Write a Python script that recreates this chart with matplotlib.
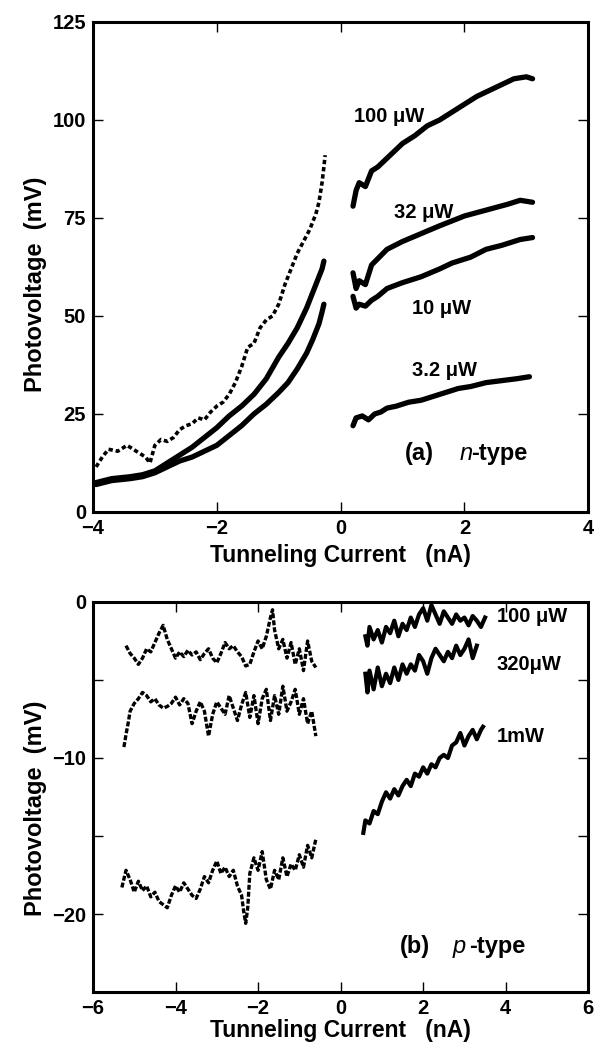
import matplotlib
matplotlib.use("Agg")
import matplotlib.pyplot as plt
from matplotlib.ticker import MultipleLocator

plt.rcParams['font.family'] = ['Liberation Sans', 'DejaVu Sans']

# ---------------- (a) n-type ----------------
n100_neg_x = [-3.95, -3.85, -3.75, -3.6, -3.45, -3.35, -3.25, -3.15, -3.08, -3.0, -2.9, -2.8, -2.7,
              -2.6, -2.5, -2.4, -2.3, -2.2, -2.1, -2.0, -1.9, -1.8, -1.7, -1.6, -1.5, -1.4, -1.3,
              -1.2, -1.1, -1.0, -0.9, -0.8, -0.7, -0.6, -0.5, -0.45, -0.4, -0.35, -0.3, -0.27, -0.25]
n100_neg_y = [11.5, 14, 16, 15.5, 17, 16, 15, 14, 12.5, 17, 18.5, 18, 19,
              21, 22, 22.5, 24, 23.5, 25.5, 27, 28, 30, 33, 37, 42, 43, 47,
              49, 50, 53, 58, 62, 66, 69, 72, 74, 76, 79, 84, 88, 91]
n32_neg_x = [-3.95, -3.7, -3.4, -3.2, -3.0, -2.8, -2.6, -2.4, -2.2, -2.0, -1.8, -1.6, -1.4, -1.2,
             -1.0, -0.85, -0.7, -0.55, -0.45, -0.35, -0.3, -0.27]
n32_neg_y = [7.5, 8.5, 9, 9.5, 10.5, 12.5, 14.5, 16.5, 19, 21.5, 24.5, 27, 30, 34,
             39.5, 43, 47, 52, 56, 60, 62, 64]
n10_neg_x = [-3.95, -3.7, -3.4, -3.2, -3.0, -2.8, -2.6, -2.4, -2.2, -2.0, -1.8, -1.6, -1.4, -1.2,
             -1.0, -0.85, -0.7, -0.55, -0.45, -0.35, -0.3, -0.27]
n10_neg_y = [7, 8, 8.5, 9, 10, 11.5, 13, 14, 15.5, 17, 19.5, 22, 25, 27.5,
             30.5, 33, 36.5, 40.5, 44, 48, 51, 53]

n100_pos_x = [0.2, 0.25, 0.3, 0.4, 0.5, 0.6, 0.8, 1.0, 1.2, 1.4, 1.6, 1.8, 2.0, 2.2, 2.4, 2.6, 2.8, 3.0, 3.1]
n100_pos_y = [78, 82, 84, 83, 87, 88, 91, 94, 96, 98.5, 100, 102, 104, 106, 107.5, 109, 110.5, 111, 110.5]
n32_pos_x = [0.2, 0.25, 0.3, 0.4, 0.5, 0.75, 1.0, 1.3, 1.6, 2.0, 2.35, 2.7, 2.9, 3.1]
n32_pos_y = [61, 57, 59, 58, 63, 67, 69, 71, 73, 75.5, 77, 78.5, 79.5, 79]
n10_pos_x = [0.2, 0.25, 0.3, 0.4, 0.5, 0.6, 0.75, 1.0, 1.3, 1.6, 1.8, 2.1, 2.35, 2.6, 2.9, 3.1]
n10_pos_y = [55, 52, 53, 52.5, 54, 55, 57, 58.5, 60, 62, 63.5, 65, 67, 68, 69.5, 70]
n3_pos_x = [0.2, 0.25, 0.35, 0.45, 0.55, 0.65, 0.75, 0.9, 1.1, 1.3, 1.5, 1.7, 1.9, 2.1, 2.35, 2.6, 2.85, 3.05]
n3_pos_y = [22, 24, 24.5, 23.5, 25, 25.5, 26.5, 27, 28, 28.5, 29.5, 30.5, 31.5, 32, 33, 33.5, 34, 34.5]

# ---------------- (b) p-type ----------------
p100_neg_x = [-5.2, -5.1, -5.0, -4.9, -4.8, -4.7, -4.6, -4.5, -4.4, -4.3, -4.2, -4.1, -4.0, -3.9, -3.8,
              -3.7, -3.6, -3.5, -3.4, -3.3, -3.2, -3.1, -3.0, -2.9, -2.8, -2.7, -2.6, -2.5, -2.4,
              -2.3, -2.2, -2.1, -2.0, -1.9, -1.8, -1.7, -1.65, -1.6, -1.5, -1.4, -1.3, -1.2, -1.1,
              -1.0, -0.9, -0.8, -0.7, -0.6]
p100_neg_y = [-2.8, -3.3, -3.6, -4.0, -3.6, -3.0, -3.2, -2.6, -2.0, -1.5, -2.4, -3.0, -3.6, -3.2, -3.5,
              -3.1, -3.4, -3.2, -3.7, -3.3, -3.0, -3.6, -3.9, -3.3, -2.6, -3.0, -2.8, -3.2, -3.5,
              -4.1, -4.0, -3.2, -2.5, -3.0, -2.2, -1.0, -0.5, -1.8, -3.0, -2.4, -3.6, -2.6, -4.0,
              -3.0, -4.4, -2.5, -3.8, -4.2]
p320_neg_x = [-5.25, -5.2, -5.15, -5.1, -5.0, -4.9, -4.8, -4.7, -4.6, -4.5, -4.4, -4.3, -4.2, -4.1,
              -4.0, -3.9, -3.8, -3.7, -3.6, -3.5, -3.4, -3.3, -3.2, -3.1, -3.0, -2.9, -2.8, -2.7,
              -2.6, -2.5, -2.4, -2.3, -2.2, -2.1, -2.0, -1.9, -1.8, -1.7, -1.6, -1.5, -1.4, -1.3,
              -1.2, -1.1, -1.0, -0.9, -0.8, -0.7, -0.6]
p320_neg_y = [-9.3, -8.5, -7.8, -7.0, -6.5, -6.2, -5.8, -6.0, -6.4, -6.2, -6.6, -6.8, -6.7, -6.5,
              -6.1, -6.6, -6.2, -6.5, -7.8, -7.0, -6.4, -7.0, -8.6, -7.2, -6.4, -6.8, -7.2, -6.0,
              -6.8, -7.6, -6.6, -5.8, -7.4, -6.0, -7.8, -6.2, -5.6, -7.6, -6.0, -7.2, -5.4, -7.0,
              -6.4, -5.6, -7.2, -6.2, -7.8, -7.0, -8.6]
p1m_neg_x = [-5.3, -5.2, -5.1, -5.0, -4.9, -4.8, -4.7, -4.6, -4.5, -4.4, -4.3, -4.2, -4.1, -4.0,
             -3.9, -3.8, -3.7, -3.6, -3.5, -3.4, -3.3, -3.2, -3.1, -3.0, -2.9, -2.8, -2.7, -2.6,
             -2.5, -2.4, -2.35, -2.3, -2.25, -2.2, -2.1, -2.0, -1.9, -1.8, -1.7, -1.6, -1.5, -1.4,
             -1.3, -1.2, -1.1, -1.0, -0.9, -0.8, -0.7, -0.6]
p1m_neg_y = [-18.3, -17.2, -17.8, -18.6, -17.9, -18.5, -18.2, -18.9, -18.6, -19.2, -19.4, -19.6, -18.8, -18.2,
             -18.6, -18.0, -18.4, -18.8, -19.0, -18.4, -17.6, -18.0, -17.2, -16.6, -17.4, -17.0, -17.6, -17.2,
             -18.2, -18.8, -19.8, -20.6, -19.6, -17.4, -16.4, -17.2, -16.0, -17.8, -18.4, -17.2, -17.8, -16.4,
             -17.6, -16.8, -17.2, -16.2, -17.0, -15.6, -16.4, -15.2]

p100_pos_x = [0.6, 0.65, 0.7, 0.8, 0.9, 1.0, 1.1, 1.2, 1.3, 1.4, 1.5, 1.6, 1.7, 1.8, 1.9, 2.0, 2.1,
              2.2, 2.3, 2.4, 2.5, 2.6, 2.7, 2.8, 2.9, 3.0, 3.1, 3.2, 3.3, 3.4, 3.5]
p100_pos_y = [-2.2, -2.8, -1.6, -2.4, -1.8, -2.6, -1.6, -2.0, -1.2, -2.2, -1.4, -1.8, -1.0, -1.6, -0.8,
              -0.4, -1.2, -0.2, -0.8, -1.4, -0.6, -1.0, -1.4, -0.8, -1.2, -1.0, -1.5, -0.9, -1.2, -1.6, -1.0]
p320_pos_x = [0.6, 0.65, 0.7, 0.8, 0.9, 1.0, 1.1, 1.2, 1.3, 1.4, 1.5, 1.6, 1.7, 1.8, 1.9, 2.0, 2.1,
              2.2, 2.3, 2.4, 2.5, 2.6, 2.7, 2.8, 2.9, 3.0, 3.1, 3.2, 3.3]
p320_pos_y = [-4.6, -5.8, -4.4, -5.6, -4.2, -5.4, -4.6, -5.2, -4.2, -5.0, -4.0, -4.6, -4.0, -4.4, -3.4,
              -3.8, -4.6, -3.6, -3.0, -3.4, -3.8, -3.2, -3.6, -2.8, -3.4, -3.0, -2.4, -3.6, -2.8]
p1m_pos_x = [0.55, 0.6, 0.7, 0.8, 0.9, 1.0, 1.1, 1.2, 1.3, 1.4, 1.5, 1.6, 1.7, 1.8, 1.9, 2.0, 2.1,
             2.2, 2.3, 2.4, 2.5, 2.6, 2.7, 2.8, 2.9, 3.0, 3.1, 3.2, 3.3, 3.4, 3.45]
p1m_pos_y = [-14.8, -14.0, -14.2, -13.4, -13.6, -12.8, -12.2, -12.6, -12.0, -12.4, -11.8, -11.4, -11.8,
             -11.0, -11.2, -10.6, -11.0, -10.4, -10.6, -10.0, -9.8, -10.0, -9.2, -9.0, -8.4, -9.2, -8.6,
             -8.2, -8.8, -8.2, -8.0]

top_labels = ["100 \u03bcW", "32 \u03bcW", "10 \u03bcW", "3.2 \u03bcW"]
top_label_xy = [(0.78, 101), (1.34, 76.5), (1.63, 52), (1.67, 36)]
bot_labels = ["100 \u03bcW", "320\u03bcW", "1mW"]
bot_label_xy = [(4.65, -0.9), (4.56, -4.0), (4.37, -8.6)]

fig = plt.figure(figsize=(5.96, 10.44), dpi=100)
ax1 = fig.add_axes([0.156, 0.5096, 0.831, 0.4694])
ax2 = fig.add_axes([0.156, 0.0498, 0.831, 0.3736])

K = 'black'
FS = 14.5
LFS = 16.5

def style(ax):
    for s in ax.spines.values():
        s.set_linewidth(2.2)
    ax.tick_params(which='both', direction='in', top=True, right=True, length=7, width=1.0,
                   labelsize=FS, pad=5)
    for lab in ax.get_xticklabels() + ax.get_yticklabels():
        lab.set_fontweight('bold')

# (a)
solid = dict(color=K, lw=3.8, solid_joinstyle='round', solid_capstyle='round')
ax1.plot(n100_neg_x, n100_neg_y, color=K, lw=2.6, ls=(0, (1.2, 0.8)))
ax1.plot(n32_neg_x, n32_neg_y, **solid)
ax1.plot(n10_neg_x, n10_neg_y, **solid)
ax1.plot(n100_pos_x, n100_pos_y, **solid)
ax1.plot(n32_pos_x, n32_pos_y, **solid)
ax1.plot(n10_pos_x, n10_pos_y, **solid)
ax1.plot(n3_pos_x, n3_pos_y, **solid)
ax1.set_xlim(-4, 4)
ax1.set_ylim(0, 125)
ax1.set_xticks([-4, -2, 0, 2, 4])
ax1.set_yticks([0, 25, 50, 75, 100, 125])
style(ax1)
for t, (x, y) in zip(top_labels, top_label_xy):
    ax1.text(x, y, t, ha='center', va='center', fontsize=FS, fontweight='bold')
ax1.text(1.04, 15, "(a)", ha='left', va='center', fontsize=17, fontweight='bold')
ax1.text(1.92, 15, "n", ha='left', va='center', fontsize=17, fontstyle='italic')
ax1.text(2.11, 15, "-type", ha='left', va='center', fontsize=17, fontweight='bold')
ax1.set_xlabel("Tunneling Current   (nA)", fontsize=LFS, fontweight='bold')
ax1.set_ylabel("Photovoltage  (mV)", fontsize=17, fontweight='bold')
ax1.xaxis.set_label_coords(0.5, -0.066)
ax1.yaxis.set_label_coords(-0.092, 0.465)

# (b)
dotted = dict(color=K, lw=2.4, ls=(0, (1.5, 0.6)))
wig = dict(color=K, lw=3.0, solid_joinstyle='round')
ax2.plot(p100_neg_x, p100_neg_y, **dotted)
ax2.plot(p320_neg_x, p320_neg_y, **dotted)
ax2.plot(p1m_neg_x, p1m_neg_y, **dotted)
ax2.plot(p100_pos_x, p100_pos_y, **wig)
ax2.plot(p320_pos_x, p320_pos_y, **wig)
ax2.plot(p1m_pos_x, p1m_pos_y, **wig)
ax2.set_xlim(-6, 6)
ax2.set_ylim(-25, 0)
ax2.set_xticks([-6, -4, -2, 0, 2, 4, 6])
ax2.set_yticks([-20, -10, 0])
ax2.yaxis.set_minor_locator(MultipleLocator(5))
style(ax2)
for t, (x, y) in zip(bot_labels, bot_label_xy):
    ax2.text(x, y, t, ha='center', va='center', fontsize=FS, fontweight='bold')
ax2.text(1.44, -22.1, "(b)", ha='left', va='center', fontsize=17, fontweight='bold')
ax2.text(2.71, -22.1, "p", ha='left', va='center', fontsize=17, fontstyle='italic')
ax2.text(3.12, -22.1, "-type", ha='left', va='center', fontsize=17, fontweight='bold')
ax2.set_xlabel("Tunneling Current   (nA)", fontsize=LFS, fontweight='bold')
ax2.set_ylabel("Photovoltage  (mV)", fontsize=17, fontweight='bold')
ax2.xaxis.set_label_coords(0.5, -0.069)
ax2.yaxis.set_label_coords(-0.092, 0.47)

fig.savefig("out.png", dpi=100)
